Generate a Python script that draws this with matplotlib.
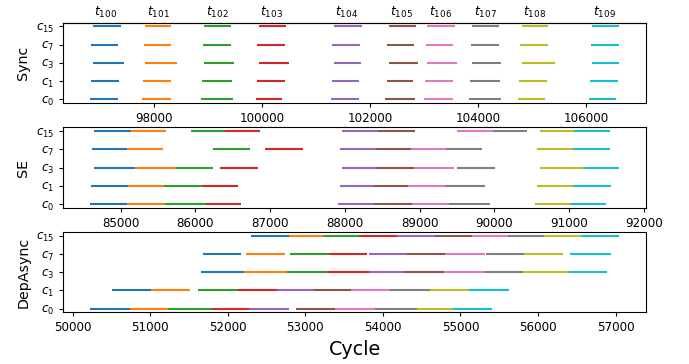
import numpy as np
import matplotlib
matplotlib.use("Agg")
import matplotlib.pyplot as plt

# task ids and core labels (rows bottom -> top)
tasks = [100, 101, 102, 103, 104, 105, 106, 107, 108, 109]
cores = ["c_0", "c_1", "c_3", "c_7", "c_{15}"]

# (start, end) cycles per core per task
sync = [
    [(96806, 97330), (97773, 98314), (98868, 99458), (99883, 100376), (101268, 101790),
     (102283, 102824), (103003, 103539), (103840, 104419), (104744, 105243), (106055, 106561)],
    [(96818, 97348), (97791, 98301), (98892, 99434), (99896, 100419), (101286, 101790),
     (102307, 102800), (103022, 103539), (103858, 104406), (104763, 105287), (106073, 106598)],
    [(96861, 97433), (97834, 98425), (98929, 99477), (99939, 100492), (101329, 101835),
     (102344, 102887), (103059, 103612), (103895, 104425), (104807, 105435), (106110, 106609)],
    [(96831, 97322), (97802, 98314), (98905, 99427), (99907, 100419), (101299, 101822),
     (102320, 102819), (103035, 103544), (103871, 104388), (104776, 105292), (106086, 106616)],
    [(96861, 97385), (97834, 98314), (98929, 99422), (99939, 100437), (101329, 101846),
     (102344, 102850), (103059, 103570), (103895, 104388), (104807, 105305), (106110, 106622)],
]

se = [
    [(84587, 85084), (85084, 85587), (85587, 86143), (86143, 86613), (87907, 88396),
     (88396, 88897), (88897, 89391), (89391, 89947), (90547, 91009), (91009, 91497)],
    [(84604, 85097), (85097, 85573), (85573, 86089), (86089, 86573), (87929, 88387),
     (88387, 88844), (88844, 89343), (89343, 89876), (90569, 91057), (91057, 91560)],
    [(84644, 85187), (85187, 85737), (85737, 86240), (86324, 86840), (87964, 88427),
     (88427, 88924), (88924, 89457), (89507, 90013), (90609, 91191), (91191, 91676)],
    [(84617, 85080), (85080, 85564), (86231, 86733), (86937, 87436), (87937, 88417),
     (88417, 88884), (88884, 89351), (89351, 89836), (90577, 91057), (91057, 91556)],
    [(84644, 85133), (85133, 85600), (85937, 86391), (86391, 86867), (87964, 88444),
     (88444, 88933), (89507, 89977), (89977, 90440), (90609, 91071), (91071, 91556)],
]

dep_async = [
    [(50222, 50736), (50736, 51233), (51233, 51798), (51798, 52277), (52277, 52787),
     (52881, 53382), (53382, 53896), (53896, 54439), (54439, 54901), (54901, 55402)],
    [(50505, 51015), (51015, 51519), (51622, 52136), (52136, 52637), (52637, 53108),
     (53108, 53587), (53587, 54092), (54092, 54606), (54606, 55107), (55107, 55630)],
    [(51652, 52204), (52204, 52765), (52765, 53283), (53283, 53822), (53822, 54290),
     (54290, 54786), (54786, 55312), (55312, 55805), (55805, 56400), (56400, 56888)],
    [(51686, 52174), (52239, 52740), (52804, 53301), (53301, 53802), (53822, 54310),
     (54310, 54799), (54799, 55312), (55330, 55822), (55822, 56323), (56417, 56940)],
    [(52294, 52787), (52787, 53232), (53232, 53694), (53694, 54182), (54182, 54670),
     (54670, 55145), (55145, 55617), (55617, 56079), (56079, 56550), (56550, 57051)],
]

panels = [("Sync", sync), ("SE", se), ("DepAsync", dep_async)]

TICK = 8.6
fig, axes = plt.subplots(3, 1, figsize=(6.89, 3.64), dpi=100)
fig.subplots_adjust(left=0.092, right=0.9375, top=0.9376, bottom=0.142, hspace=0.305)

for ax, (name, data) in zip(axes, panels):
    arr = np.array(data)  # cores x tasks x 2
    for j in range(len(tasks)):
        for i in range(len(cores)):
            ax.plot(arr[i, j], [i, i], color=f"C{j}", lw=1.5, solid_capstyle="butt")
    ax.set_yticks(range(len(cores)))
    ax.set_yticklabels([f"${c}$" for c in cores])
    ax.set_ylabel(name, fontsize=10.3)
    ax.tick_params(labelsize=TICK, length=3)
    ax.ticklabel_format(axis="x", useOffset=False, style="plain")

# task labels above the first panel, centred on the task's mean span
arr = np.array(sync)
centers = arr.mean(axis=2).mean(axis=0)
top = axes[0].secondary_xaxis("top")
top.set_xticks(centers)
top.set_xticklabels([f"$t_{{{t}}}$" for t in tasks])
top.tick_params(length=0, labelsize=9, pad=2)

axes[-1].set_xlabel("Cycle", fontsize=13.8)

fig.savefig("out.png", dpi=100)
